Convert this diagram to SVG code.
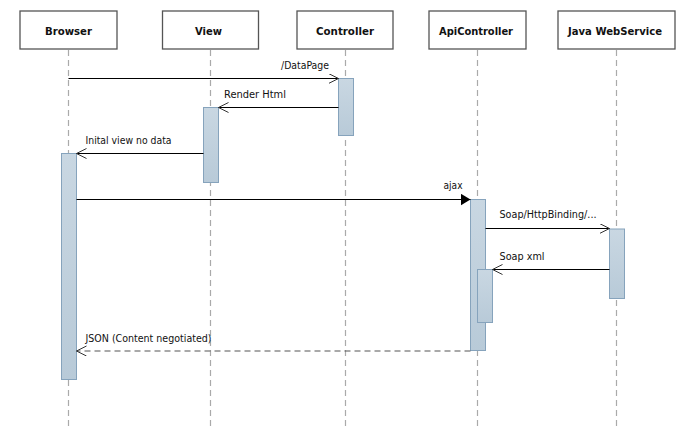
<svg xmlns="http://www.w3.org/2000/svg" width="700" height="429" viewBox="0 0 700 429">
  <defs>
    <linearGradient id="actFill" x1="0" y1="0" x2="0" y2="1">
      <stop offset="0" stop-color="#c9d7e2"/>
      <stop offset="1" stop-color="#b8cad8"/>
    </linearGradient>
    <marker id="open" markerWidth="12" markerHeight="12" refX="10" refY="5" orient="auto" markerUnits="userSpaceOnUse">
      <path d="M0,0 L10,5 L0,10" fill="none" stroke="#333" stroke-width="1"/>
    </marker>
    <marker id="filled" markerWidth="12" markerHeight="14" refX="10" refY="6" orient="auto" markerUnits="userSpaceOnUse">
      <path d="M0,0 L10,6 L0,12 Z" fill="#000"/>
    </marker>
  </defs>
  <style>
    .head { fill: #fff; stroke: #555; stroke-width: 1.3; }
    .headText { font-family: "DejaVu Sans", Verdana, sans-serif; font-weight: bold; font-size: 10.5px; fill: #111; text-anchor: middle; }
    .life { stroke: #aaa; stroke-width: 1.2; stroke-dasharray: 6 4; fill: none; }
    .act { fill: url(#actFill); stroke: #86a3bc; stroke-width: 1; }
    .msg { stroke: #000; stroke-width: 1.2; fill: none; }
    .ret { stroke: #555; stroke-width: 1.2; stroke-dasharray: 6 4; fill: none; }
    .lbl { font-family: "DejaVu Sans", Verdana, sans-serif; font-size: 10.5px; fill: #111; }
  </style>

  <g id="browser">
    <rect class="head" x="20" y="11" width="97" height="38"/>
    <text class="headText" x="68.5" y="35" textLength="47" lengthAdjust="spacingAndGlyphs">Browser</text>
    <line class="life" x1="68.5" y1="50" x2="68.5" y2="429"/>
    <rect class="act" x="61.5" y="153.5" width="15" height="226"/>
  </g>

  <g id="view">
    <rect class="head" x="162.5" y="11" width="96" height="38"/>
    <text class="headText" x="208.5" y="35" textLength="27" lengthAdjust="spacingAndGlyphs">View</text>
    <line class="life" x1="210.5" y1="50" x2="210.5" y2="429"/>
    <rect class="act" x="203.5" y="107.5" width="15" height="75"/>
  </g>

  <g id="controller">
    <rect class="head" x="297" y="11" width="96" height="38"/>
    <text class="headText" x="345" y="35" textLength="58" lengthAdjust="spacingAndGlyphs">Controller</text>
    <line class="life" x1="345.5" y1="50" x2="345.5" y2="429"/>
    <rect class="act" x="338.5" y="78.5" width="15" height="57"/>
  </g>

  <g id="apicontroller">
    <rect class="head" x="429" y="11" width="97" height="38"/>
    <text class="headText" x="476" y="35" textLength="74" lengthAdjust="spacingAndGlyphs">ApiController</text>
    <line class="life" x1="477.5" y1="50" x2="477.5" y2="429"/>
    <rect class="act" x="470.5" y="199.5" width="15" height="151"/>
    <rect class="act" x="477.5" y="269.5" width="15" height="53"/>
  </g>

  <g id="javawebservice">
    <rect class="head" x="558" y="11" width="117" height="38"/>
    <text class="headText" x="615" y="35" textLength="94" lengthAdjust="spacingAndGlyphs">Java WebService</text>
    <line class="life" x1="616.5" y1="50" x2="616.5" y2="429"/>
    <rect class="act" x="609.5" y="229" width="15" height="69.5"/>
  </g>

  <g id="connectors">
    <line class="msg" x1="68.5" y1="78.5" x2="338.5" y2="78.5" marker-end="url(#open)"/>
    <text class="lbl" x="281" y="69" textLength="48" lengthAdjust="spacingAndGlyphs">/DataPage</text>

    <line class="msg" x1="338.5" y1="107.5" x2="218.5" y2="107.5" marker-end="url(#open)"/>
    <text class="lbl" x="224" y="98" textLength="62" lengthAdjust="spacingAndGlyphs">Render Html</text>

    <line class="msg" x1="203.5" y1="153.5" x2="76.5" y2="153.5" marker-end="url(#open)"/>
    <text class="lbl" x="85.5" y="144" textLength="86" lengthAdjust="spacingAndGlyphs">Inital view no data</text>

    <line class="msg" x1="76.5" y1="199.5" x2="470.5" y2="199.5" marker-end="url(#filled)"/>
    <text class="lbl" x="443.5" y="189" textLength="19" lengthAdjust="spacingAndGlyphs">ajax</text>

    <line class="msg" x1="485.5" y1="228.5" x2="609.5" y2="228.5" marker-end="url(#open)"/>
    <text class="lbl" x="499.5" y="218" textLength="97" lengthAdjust="spacingAndGlyphs">Soap/HttpBinding/...</text>

    <line class="msg" x1="609.5" y1="269.5" x2="492.5" y2="269.5" marker-end="url(#open)"/>
    <text class="lbl" x="499.5" y="260" textLength="45" lengthAdjust="spacingAndGlyphs">Soap xml</text>

    <line class="ret" x1="470.5" y1="351" x2="76.5" y2="351" marker-end="url(#open)"/>
    <text class="lbl" x="85.5" y="342" textLength="126" lengthAdjust="spacingAndGlyphs">JSON (Content negotiated)</text>
  </g>
</svg>
